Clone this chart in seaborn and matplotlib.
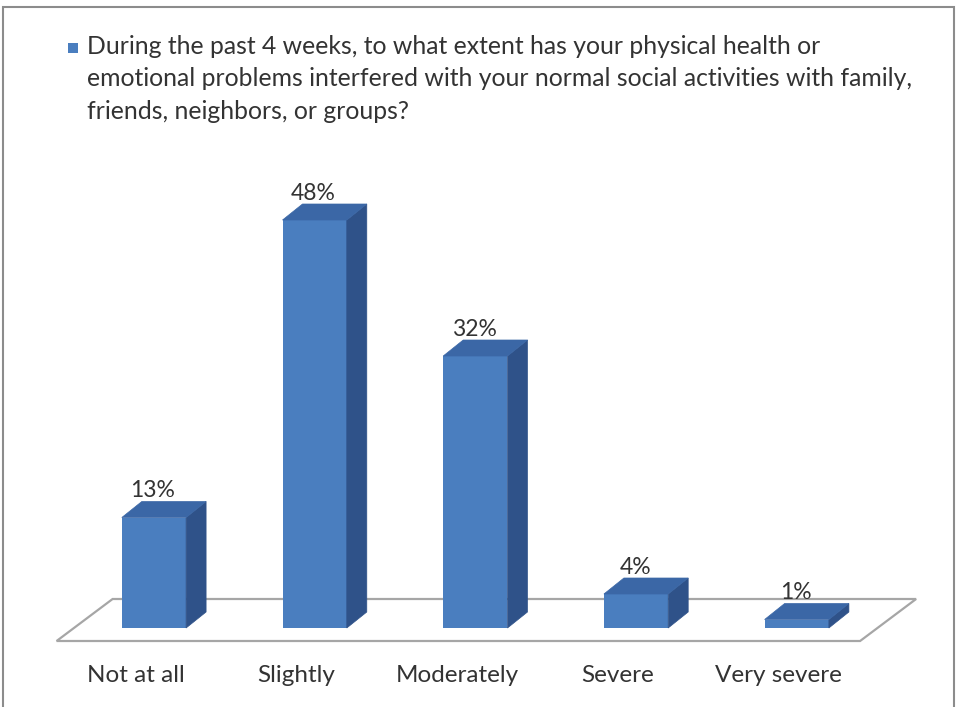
import numpy as np
import pandas as pd
import seaborn as sns
import matplotlib.pyplot as plt
from matplotlib.patches import Polygon, Rectangle
from matplotlib.transforms import IdentityTransform, ScaledTranslation

# --- data -------------------------------------------------------------
categories = ["Not at all", "Slightly", "Moderately", "Severe", "Very severe"]
values = [13, 48, 32, 4, 1]
value_labels = ["13%", "48%", "32%", "4%", "1%"]
series_name = ("During the past 4 weeks, to what extent has your physical health or\n"
               "emotional problems interfered with your normal social activities with family,\n"
               "friends, neighbors, or groups?")

df = pd.DataFrame({"category": categories, "value": values})

# --- styling ----------------------------------------------------------
FRONT = "#4a7ebf"
SIDE = "#2f5289"
TOP = "#3b67a6"
TEXT = "#333333"
FLOOR_EDGE = "#a6a6a6"

sns.set_theme(style="white")
plt.rcParams["font.family"] = ["Lato", "DejaVu Sans"]

W, H, DPI = 957, 707, 100
fig = plt.figure(figsize=(W / DPI, H / DPI), dpi=DPI)
fig.patch.set_facecolor("white")


def fx(x):
    return x / W


def fy(y):
    return 1 - y / H


# plot area: category units across, percent up
ax_left, ax_w = 73.6, 803.5
ax_bottom_px, ax_h = 628, 425
ax = fig.add_axes([fx(ax_left), fy(ax_bottom_px), ax_w / W, ax_h / H])

# floor of the 3-D plot (parallelogram under the bars)
depth_floor = (56, 42)
fl = ax_left - 17
fr = ax_left + ax_w - 17
ffront = ax_bottom_px + 13
floor_pts = [(fl, ffront), (fr, ffront),
             (fr + depth_floor[0], ffront - depth_floor[1]),
             (fl + depth_floor[0], ffront - depth_floor[1])]
fig.add_artist(Polygon([(fx(x), fy(y)) for x, y in floor_pts], closed=True,
                       transform=fig.transFigure, facecolor="white",
                       edgecolor=FLOOR_EDGE, lw=1.6, zorder=0))

sns.barplot(data=df, x="category", y="value", color=FRONT, saturation=1,
            width=0.4, ax=ax, zorder=3, linewidth=0)
ax.set_xlim(-0.5, 4.5)
ax.set_ylim(0, 50)
ax.axis("off")

# depth faces of each bar, built from the bar geometry in display pixels
dx, dy = 20, 16
for bar in ax.patches:
    x0 = bar.get_x()
    x1 = x0 + bar.get_width()
    h = bar.get_height()
    (px0, py0), (px1, py1) = ax.transData.transform([(x0, 0), (x1, h)])
    side = [(px1, py0), (px1 + dx, py0 + dy), (px1 + dx, py1 + dy), (px1, py1)]
    top = [(px0, py1), (px1, py1), (px1 + dx, py1 + dy), (px0 + dx, py1 + dy)]
    for pts, col in ((side, SIDE), (top, TOP)):
        fig.add_artist(Polygon(pts, closed=True, transform=IdentityTransform(),
                               facecolor=col, edgecolor=col, lw=0.5, zorder=4))

# value labels above each bar
lab_off = ax.transData + ScaledTranslation(-1 / DPI, 27 / DPI, fig.dpi_scale_trans)
for i, (v, s) in enumerate(zip(values, value_labels)):
    ax.text(i, v, s, transform=lab_off, ha="center", va="center",
            fontsize=16.5, color=TEXT, zorder=6, clip_on=False)

# category labels along the front edge of the floor
cat_off = ax.transData + ScaledTranslation(-18 / DPI, -47 / DPI, fig.dpi_scale_trans)
for i, c in enumerate(categories):
    ax.text(i, 0, c, transform=cat_off, ha="center", va="center",
            fontsize=17.5, color=TEXT, clip_on=False)

# series key at the top
fig.add_artist(Rectangle((fx(68), fy(53)), 10 / W, 10 / H, transform=fig.transFigure,
                         facecolor=FRONT, edgecolor="none"))
fig.text(fx(87), fy(35), series_name, ha="left", va="top", fontsize=17.8,
         color=TEXT, linespacing=1.5, transform=fig.transFigure)

# chart border
fig.add_artist(Rectangle((fx(3), fy(712)), (954 - 3) / W, (712 - 7) / H,
                         transform=fig.transFigure, facecolor="none",
                         edgecolor="#8c8c8c", lw=1.5, zorder=10))

fig.savefig("out.png", dpi=DPI, facecolor="white")
